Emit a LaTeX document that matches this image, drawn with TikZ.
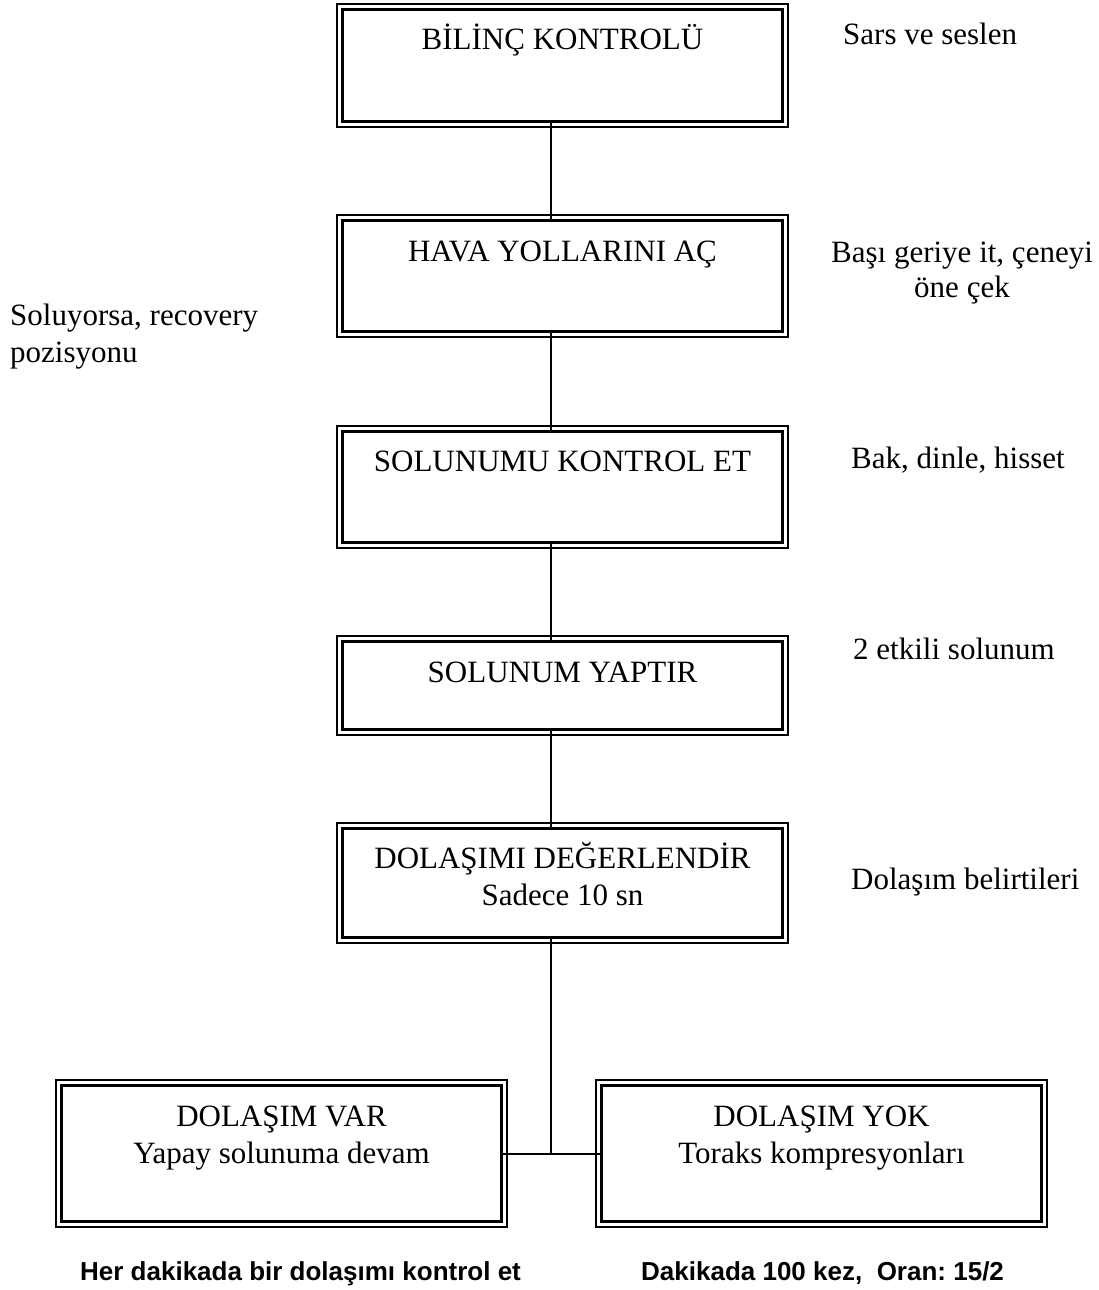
\documentclass[tikz,border=0pt]{standalone}
\usepackage{fontspec}
\setmainfont{Liberation Serif}
\newfontfamily\boldsans{Liberation Sans}
\frenchspacing
\begin{document}
\begin{tikzpicture}[x=1pt,y=-1pt,
  inbox/.style={draw=black, line width=2.2pt, inner sep=0pt, outer sep=0pt, minimum width=440pt},
  outline/.style={draw=black, line width=1.2pt},
  conn/.style={draw=black, line width=1.6pt},
  txt/.style={anchor=base, inner sep=0pt, font=\fontsize{31}{37}\selectfont},
  side/.style={anchor=base west, inner sep=0pt, font=\fontsize{31}{37}\selectfont},
  note/.style={anchor=base west, inner sep=0pt, font=\boldsans\bfseries\fontsize{26}{30}\selectfont}]
\useasboundingbox (0,0) rectangle (1099,1290);
% boxes (inner thick rectangles)
\node[inbox, minimum height=112pt] (b1) at (562.5,65.5) {};
\node[inbox, minimum height=111pt] (b2) at (562.5,276) {};
\node[inbox, minimum height=111pt] (b3) at (562.5,487) {};
\node[inbox, minimum height=88pt]  (b4) at (562.5,685.5) {};
\node[inbox, minimum height=109pt] (b5) at (562.5,883) {};
\node[inbox, minimum height=136pt] (b6) at (281.5,1153.5) {};
\node[inbox, minimum height=136pt] (b7) at (821.5,1153.5) {};
% outer thin rectangles
\foreach \n in {b1,b2,b3,b4,b5,b6,b7}
  \draw[outline] ([shift={(-5.5,-5.5)}]\n.north west) rectangle ([shift={(5.5,5.5)}]\n.south east);
% box texts
\node[txt] (t1) at (562.5,50) {BİLİNÇ KONTROLÜ};
\node[txt] (t2) at (562.5,261) {HAVA YOLLARINI AÇ};
\node[txt] (t3) at (562.5,471) {SOLUNUMU KONTROL ET};
\node[txt] (t4) at (562.5,682) {SOLUNUM YAPTIR};
\node[txt] (t5a) at (562.5,868) {DOLAŞIMI DEĞERLENDİR};
\node[txt] (t5b) at (562.5,905) {Sadece 10 sn};
\node[txt] (t6a) at (281.5,1126) {DOLAŞIM VAR};
\node[txt] (t6b) at (281.5,1163) {Yapay solunuma devam};
\node[txt] (t7a) at (821.5,1126) {DOLAŞIM YOK};
\node[txt] (t7b) at (821.5,1163) {Toraks kompresyonları};
% side labels
\node[side] (s1) at (843,45) {Sars ve seslen};
\node[txt] (s2a) at (962,262) {Başı geriye it, çeneyi};
\node[txt] (s2b) at (962,297) {öne çek};
\node[side] (s3a) at (10,325) {Soluyorsa, recovery};
\node[side] (s3b) at (10,362) {pozisyonu};
\node[side] (s4) at (851,468) {Bak, dinle, hisset};
\node[side] (s5) at (853,659) {2 etkili solunum};
\node[side] (s6) at (851,889) {Dolaşım belirtileri};
\node[note] (n1) at (80,1280) {Her dakikada bir dolaşımı kontrol et};
\node[note] (n2) at (641,1280) {Dakikada 100 kez,\ \ Oran: 15/2};
% connectors
\coordinate (j) at (551,1154);
\draw[conn] (b1.south -| j) -- (b2.north -| j);
\draw[conn] (b2.south -| j) -- (b3.north -| j);
\draw[conn] (b3.south -| j) -- (b4.north -| j);
\draw[conn] (b4.south -| j) -- (b5.north -| j);
\draw[conn] (b5.south -| j) -- (j);
\draw[conn, line width=2.2pt] (b6.east |- j) -- (b7.west |- j);
\end{tikzpicture}
\end{document}
